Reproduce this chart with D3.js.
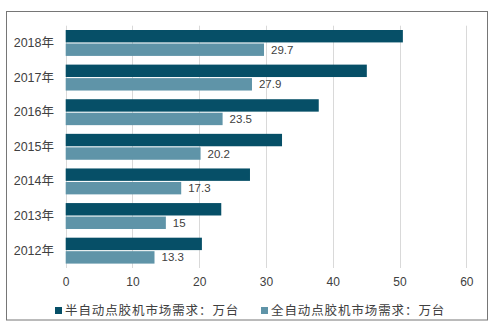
<!DOCTYPE html>
<html><head><meta charset="utf-8">
<script src="https://cdn.jsdelivr.net/npm/d3@7"></script>
<style>body{margin:0;background:#fff;} svg{display:block;}</style>
</head><body>
<script>
const categories = ["2018年","2017年","2016年","2015年","2014年","2013年","2012年"];
const semiAuto = [50.5,45.1,37.9,32.4,27.6,23.3,20.4];
const fullAuto = [29.7,27.9,23.5,20.2,17.3,15,13.3];
const seriesNames = ["半自动点胶机市场需求：万台","全自动点胶机市场需求：万台"];
const xTicks = [0,10,20,30,40,50,60];
const colors = ["#064f67","#5f94a8"];

const W=496,H=335;
const svg=d3.select("body").append("svg").attr("width",W).attr("height",H);
const font="'Liberation Sans','Noto Sans CJK SC',sans-serif";
svg.append("rect").attr("x",6.5).attr("y",11.5).attr("width",481).attr("height",308.5)
  .attr("fill","#fff").attr("stroke","#767676").attr("stroke-width",1);

const x=d3.scaleLinear().domain([0,60]).range([65.7,466.3]);
const y=d3.scaleBand().domain(categories).range([25.7,268]).paddingInner(0).paddingOuter(0);
const inner=d3.scaleBand().domain([0,1]).range([4.3,y.bandwidth()-4.4]).paddingInner(0.08);

// gridlines
svg.append("g").selectAll("line").data(xTicks).join("line")
  .attr("x1",d=>Math.round(x(d))+0.5).attr("x2",d=>Math.round(x(d))+0.5)
  .attr("y1",25.7).attr("y2",268).attr("stroke","#d9d9d9").attr("stroke-width",1);

const ax=svg.append("g").attr("transform","translate(0,268)")
  .call(d3.axisBottom(x).tickValues(xTicks).tickSize(0).tickPadding(9));
ax.select(".domain").remove();
ax.selectAll("text").attr("font-family",font).attr("font-size",12).attr("fill","#404040");

const ay=svg.append("g").attr("transform","translate(58,0)")
  .call(d3.axisLeft(y).tickSize(0).tickPadding(4));
ay.select(".domain").remove();
ay.selectAll("text").attr("font-family",font).attr("font-size",12.5).attr("fill","#404040");

const series=[semiAuto,fullAuto];
series.forEach((vals,si)=>{
  svg.append("g").selectAll("rect").data(vals).join("rect")
    .attr("x",x(0)).attr("y",(d,i)=>y(categories[i])+inner(si))
    .attr("width",d=>x(d)-x(0)).attr("height",inner.bandwidth())
    .attr("fill",colors[si]);
});
svg.append("g").selectAll("text").data(fullAuto).join("text")
  .attr("x",d=>x(d)+7).attr("y",(d,i)=>y(categories[i])+inner(1)+inner.bandwidth()/2)
  .attr("dy","0.35em").attr("font-family",font).attr("font-size",11.5).attr("fill","#404040")
  .text(d=>d);

// legend
const lg=[{x:55,tx:65},{x:261,tx:271}];
seriesNames.forEach((n,i)=>{
  svg.append("rect").attr("x",lg[i].x).attr("y",307).attr("width",7).attr("height",7).attr("fill",colors[i]);
  svg.append("text").attr("x",lg[i].tx).attr("y",311).attr("dy","0.35em")
    .attr("font-family","'Noto Sans CJK SC',sans-serif").attr("font-size",12.5).attr("fill","#404040")
    .attr("letter-spacing",0.9).text(n);
});
</script>
</body></html>
